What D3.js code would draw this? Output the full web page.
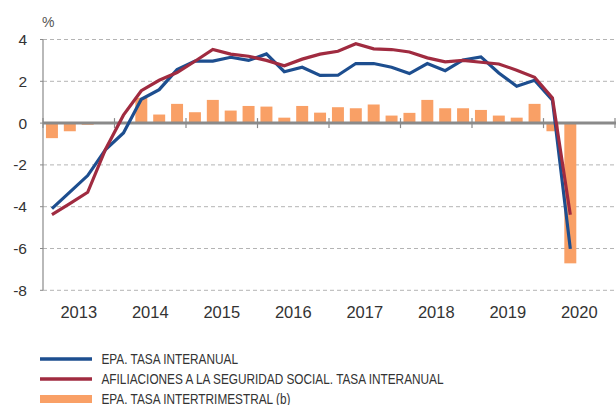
<!DOCTYPE html>
<html><head><meta charset="utf-8">
<script src="https://cdn.jsdelivr.net/npm/d3@7"></script>
<style>
html,body{margin:0;padding:0;background:#fff;}
svg{display:block;font-family:"Liberation Sans",Arial,Helvetica,sans-serif;}
</style></head>
<body>
<svg id="chart" width="616" height="405"></svg>
<script>
// ---- data ----
const years = ["2013","2014","2015","2016","2017","2018","2019","2020"];
const quarterNames = ["I","II","III","IV"];
const yTicks = [4, 2, 0, -2, -4, -6, -8];
const epaInteranual = [-4.09,-3.3,-2.51,-1.27, -0.47,1.14,1.6,2.56, 2.97,2.97,3.15,3.0, 3.31,2.46,2.67,2.28,
  2.29,2.85,2.85,2.67, 2.37,2.85,2.51,3.02, 3.17,2.4,1.76,2.05, 1.1,-6.02];
const afiliaciones = [-4.38,-3.85,-3.31,-1.25, 0.38,1.55,2.05,2.42, 2.96,3.52,3.3,3.2, 3.0,2.74,3.06,3.3,
  3.44,3.8,3.55,3.52, 3.4,3.12,2.93,3.0, 2.91,2.83,2.53,2.19, 1.2,-4.38];
const epaIntertrimestral = [-0.72,-0.39,-0.08,0.04, 0.05,1.21,0.41,0.92, 0.52,1.11,0.6,0.82, 0.79,0.26,0.82,0.5,
  0.76,0.71,0.89,0.36, 0.49,1.11,0.71,0.71, 0.63,0.36,0.26,0.92, -0.39,-6.71];
const legendLabels = ["EPA. TASA INTERANUAL","AFILIACIONES A LA SEGURIDAD SOCIAL. TASA INTERANUAL","EPA. TASA INTERTRIMESTRAL (b)"];

const quarters = years.flatMap(y => quarterNames.map(q => y + "-" + q));

// ---- layout ----
const mLeft = 43, mRight = 615, mTop = 39.5, mBottom = 290.3;
const colBlue = "#1d4e8f", colRed = "#a02b40", colOrange = "#f9a066";
const svg = d3.select("#chart");

const x = d3.scaleBand().domain(quarters).range([mLeft, mRight]).paddingInner(0.33).paddingOuter(0.165);
const xYear = d3.scaleLinear().domain([2013, 2021]).range([mLeft, mRight]);
const y = d3.scaleLinear().domain([-8, 4]).range([mBottom, mTop]);
const cx = i => x(quarters[i]) + x.bandwidth() / 2;

// grid
svg.append("g").selectAll("line").data(yTicks.filter(d => d !== 0)).join("line")
  .attr("x1", mLeft).attr("x2", mRight).attr("y1", d => y(d)).attr("y2", d => y(d))
  .attr("stroke", "#b4b4b4").attr("stroke-width", 1).attr("stroke-dasharray", "4,3");

// left axis
svg.append("line").attr("x1", mLeft).attr("x2", mLeft).attr("y1", y(4)).attr("y2", y(-8))
  .attr("stroke", "#8a8a8a").attr("stroke-width", 1.2);
svg.append("g").selectAll("line").data(yTicks).join("line")
  .attr("x1", mLeft - 3).attr("x2", mLeft).attr("y1", d => y(d)).attr("y2", d => y(d))
  .attr("stroke", "#8a8a8a").attr("stroke-width", 1);

// y labels
svg.append("g").selectAll("text").data(yTicks).join("text")
  .attr("x", 27).attr("y", d => y(d)).attr("dy", "0.35em").attr("text-anchor", "end")
  .attr("font-size", 15.5).attr("fill", "#333").text(d => d);
svg.append("text").attr("x", 42).attr("y", 27).attr("font-size", 14).attr("fill", "#555").text("%");

// bars
svg.append("g").selectAll("rect").data(epaIntertrimestral).join("rect")
  .attr("x", (d, i) => x(quarters[i])).attr("width", x.bandwidth())
  .attr("y", d => y(Math.max(0, d))).attr("height", d => Math.abs(y(d) - y(0)))
  .attr("fill", colOrange);

// zero line and year ticks
svg.append("line").attr("x1", mLeft).attr("x2", mRight + 1).attr("y1", y(0)).attr("y2", y(0))
  .attr("stroke", "#8a8a8a").attr("stroke-width", 3);
svg.append("g").selectAll("line").data(d3.range(2013, 2022)).join("line")
  .attr("x1", d => xYear(d)).attr("x2", d => xYear(d))
  .attr("y1", y(0) - 5).attr("y2", y(0) + 5)
  .attr("stroke", "#8a8a8a").attr("stroke-width", 1.2);

// x labels
svg.append("g").selectAll("text").data(years).join("text")
  .attr("x", d => xYear(+d + 0.5)).attr("y", 318).attr("text-anchor", "middle")
  .attr("font-size", 16.5).attr("fill", "#333").text(d => d);

// lines
const line = d3.line().x((d, i) => cx(i)).y(d => y(d));
svg.append("path").datum(epaInteranual).attr("d", line).attr("fill", "none")
  .attr("stroke", colBlue).attr("stroke-width", 3.2).attr("stroke-linejoin", "miter");
svg.append("path").datum(afiliaciones).attr("d", line).attr("fill", "none")
  .attr("stroke", colRed).attr("stroke-width", 3.2).attr("stroke-linejoin", "miter");

// legend
const legColors = [colBlue, colRed, colOrange];
const legWidths = [3.5, 3.5, 8];
const legY = [359, 379, 399];
const lg = svg.append("g");
legendLabels.forEach((t, i) => {
  lg.append("line").attr("x1", 40).attr("x2", 92).attr("y1", legY[i]).attr("y2", legY[i])
    .attr("stroke", legColors[i]).attr("stroke-width", legWidths[i]);
});
const legText = lg.selectAll("text.leg").data(legendLabels).join("text").attr("class", "leg")
  .attr("x", 101.5).attr("y", (d, i) => legY[i] + 4.5)
  .attr("font-size", 14.5).attr("fill", "#333").text(d => d);
// horizontally condense to match narrow typeface
const natural = legText.nodes().map(n => n.getComputedTextLength());
const k = 342 / d3.max(natural);
legText.attr("textLength", (d, i) => natural[i] * k).attr("lengthAdjust", "spacingAndGlyphs");
</script>
</body></html>
